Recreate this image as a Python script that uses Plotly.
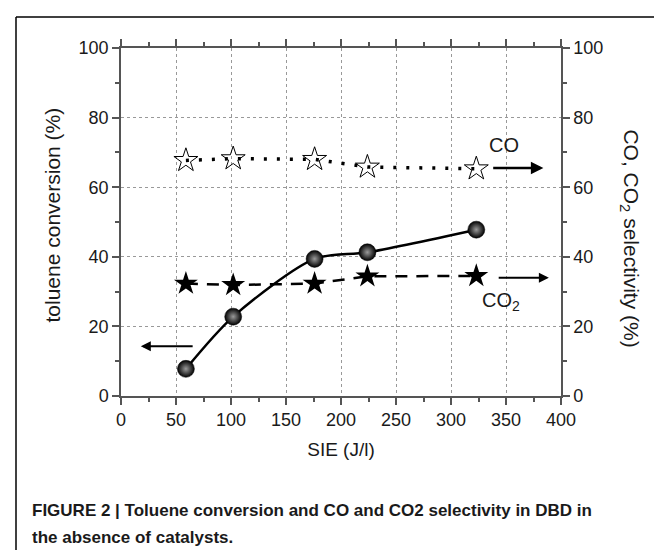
import plotly.graph_objects as go

sie = [59, 102, 176, 224, 323]
toluene_conv = [7.8, 22.8, 39.4, 41.3, 47.8]
co_sel = [67.7, 68.2, 68.0, 65.8, 65.3]
co2_sel = [32.3, 31.9, 32.3, 34.4, 34.5]
x_ticks = [0, 50, 100, 150, 200, 250, 300, 350, 400]
y_ticks = [0, 20, 40, 60, 80, 100]
caption_lines = ["FIGURE 2 | Toluene conversion and CO and CO2 selectivity in DBD in",
                 "the absence of catalysts."]

FONT = "Liberation Sans, Arial, sans-serif"
AX = "#555555"
TXT = "#1a1a1a"

fig = go.Figure()

fig.add_trace(go.Scatter(
    x=sie, y=co_sel, mode="lines", yaxis="y2",
    line=dict(color="black", width=3.5, dash="3px,10px"),
    showlegend=False))
fig.add_trace(go.Scatter(
    x=sie, y=co_sel, mode="markers", yaxis="y2",
    marker=dict(symbol="star-open", size=18, color="black", line=dict(width=1, color="black")),
    showlegend=False))
fig.add_trace(go.Scatter(
    x=sie, y=co2_sel, mode="lines+markers", yaxis="y2",
    line=dict(color="black", width=2.5, dash="12px,9px"),
    marker=dict(symbol="star", size=18, color="black"),
    showlegend=False))
fig.add_trace(go.Scatter(
    x=sie, y=toluene_conv, mode="lines+markers",
    line=dict(color="black", width=2.5, shape="spline", smoothing=0.8),
    marker=dict(symbol="circle", size=17, color="black",
                gradient=dict(type="radial", color="#9a9a9a"),
                line=dict(width=0.5, color="black")),
    showlegend=False))

axis_common = dict(
    showline=True, linecolor=AX, linewidth=1.5,
    ticks="outside", ticklen=7, tickwidth=1.5, tickcolor=AX,
    tickfont=dict(family=FONT, size=18, color=TXT),
    zeroline=False,
)
minor_common = dict(ticklen=4, tickwidth=1.5, tickcolor=AX, ticks="outside", showgrid=False)

fig.update_layout(
    width=662, height=550,
    margin=dict(l=113, r=109, t=40, b=162),
    paper_bgcolor="white", plot_bgcolor="white",
    font=dict(family=FONT, color=TXT),
    xaxis=dict(range=[0, 400], tickvals=x_ticks, mirror="ticks",
               showgrid=True, gridcolor="#999999", griddash="dot", gridwidth=1,
               minor=dict(dtick=25, **minor_common),
               title=dict(text="SIE (J/l)", font=dict(family=FONT, size=19, color=TXT), standoff=13),
               **axis_common),
    yaxis=dict(range=[0, 100], tickvals=y_ticks, mirror=True,
               showgrid=True, gridcolor="#999999", griddash="dot", gridwidth=1,
               minor=dict(dtick=10, **minor_common),
               **axis_common),
    yaxis2=dict(range=[0, 100], tickvals=y_ticks, overlaying="y", side="right",
                showgrid=False,
                minor=dict(dtick=10, **minor_common),
                **axis_common),
)

# axis titles as annotations
fig.add_annotation(xref="paper", yref="paper", x=(45 - 113) / 440, y=(389 - 208) / 349,
                   xanchor="center", yanchor="middle",
                   text="toluene conversion (%)", textangle=-90, showarrow=False,
                   font=dict(family=FONT, size=21, color=TXT))
fig.add_annotation(xref="paper", yref="paper", x=(622 - 113) / 440, y=(389 - 231) / 349,
                   xanchor="center", yanchor="middle",
                   text="CO, CO<sub>2</sub> selectivity (%)", textangle=90, showarrow=False,
                   font=dict(family=FONT, size=21, color=TXT))

# arrows
fig.add_annotation(x=384, y=65.5, ax=337, ay=65.5, xref="x", yref="y", axref="x", ayref="y",
                   text="", showarrow=True, arrowhead=2, arrowsize=1, arrowwidth=2.5, arrowcolor="black")
fig.add_annotation(x=389, y=34, ax=342, ay=34, xref="x", yref="y", axref="x", ayref="y",
                   text="", showarrow=True, arrowhead=2, arrowsize=1, arrowwidth=2, arrowcolor="black")
fig.add_annotation(x=18, y=14.3, ax=66.5, ay=14.3, xref="x", yref="y", axref="x", ayref="y",
                   text="", showarrow=True, arrowhead=2, arrowsize=1, arrowwidth=2, arrowcolor="black")
fig.add_annotation(x=348, y=72, xref="x", yref="y", text="CO", showarrow=False,
                   font=dict(family=FONT, size=20, color=TXT))
fig.add_annotation(x=345, y=27.3, xref="x", yref="y", text="CO<sub>2</sub>", showarrow=False,
                   font=dict(family=FONT, size=20, color=TXT))

# caption (two lines)
for line_text, ypix in zip(caption_lines, [504, 531]):
    fig.add_annotation(xref="paper", yref="paper", x=(22 - 113) / 440, y=(389 - ypix) / 349,
                       xanchor="left", yanchor="middle", align="left", showarrow=False,
                       text="<b>" + line_text + "</b>",
                       font=dict(family=FONT, size=17, color=TXT))

# frame
fig.add_shape(type="line", xref="paper", yref="paper", x0=(8 - 113) / 440, x1=(662 - 113) / 440,
              y0=(389 - 9) / 349, y1=(389 - 9) / 349, line=dict(color="black", width=1.5))
fig.add_shape(type="line", xref="paper", yref="paper", x0=(8 - 113) / 440, x1=(8 - 113) / 440,
              y0=(389 - 9) / 349, y1=(389 - 550) / 349, line=dict(color="black", width=1.5))

fig.write_html("out.html")
